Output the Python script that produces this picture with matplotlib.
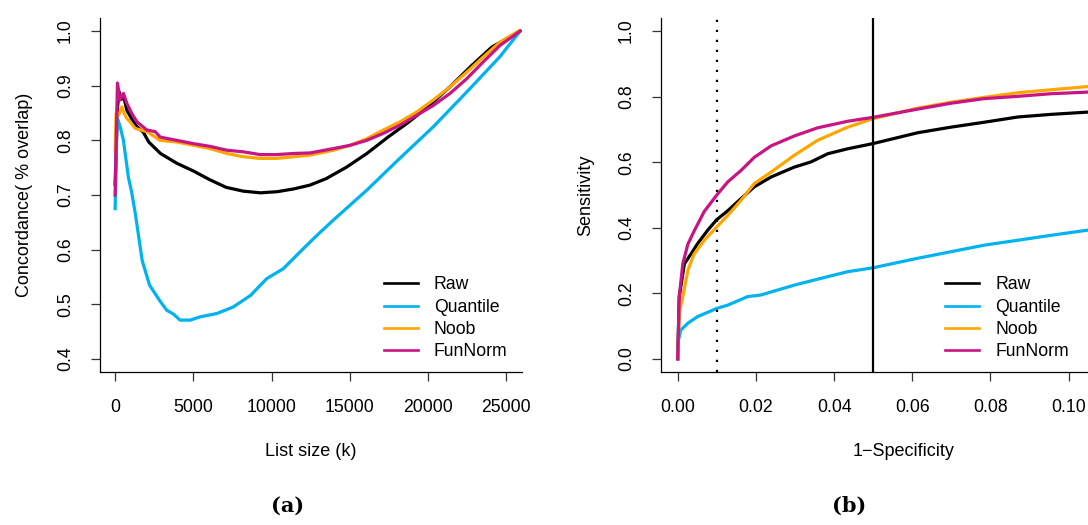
import matplotlib
matplotlib.use("Agg")
import matplotlib.pyplot as plt
from matplotlib.lines import Line2D

plt.rcParams['font.family'] = ['Liberation Sans', 'DejaVu Sans']

# ---------------- data: panel (a) concordance vs list size ----------------
raw_x = [0, 150, 250, 400, 550, 750, 950, 1150, 1400, 1800, 2150, 2900, 3950, 5000, 6050,
         7100, 8200, 9300, 10350, 11400, 12450, 13500, 14800, 16100, 17450, 18800, 20100,
         21450, 22800, 24100, 25900]
raw_y = [0.72, 0.86, 0.889, 0.875, 0.88, 0.855, 0.845, 0.835, 0.825, 0.815, 0.797, 0.776,
         0.758, 0.744, 0.728, 0.714, 0.707, 0.704, 0.706, 0.711, 0.718, 0.730, 0.751, 0.776,
         0.806, 0.834, 0.864, 0.899, 0.937, 0.971, 1.0]

quant_x = [0, 120, 320, 530, 845, 1070, 1290, 1730, 2200, 2840, 3300, 3730, 4150, 4800, 5450,
           6500, 7550, 8650, 9700, 10750, 11830, 12900, 13950, 16100, 18200, 20350, 22500,
           24600, 25900]
quant_y = [0.675, 0.843, 0.825, 0.80, 0.733, 0.703, 0.666, 0.580, 0.535, 0.507, 0.489, 0.482,
           0.471, 0.471, 0.477, 0.483, 0.495, 0.516, 0.547, 0.565, 0.596, 0.626, 0.654, 0.709,
           0.767, 0.825, 0.889, 0.953, 1.0]

noob_x = [0, 60, 200, 426, 600, 746, 960, 1280, 2030, 2880, 3950, 5010, 6070, 7140, 8200,
          9270, 10340, 11400, 12470, 13960, 15030, 16090, 17160, 18220, 19290, 20350, 21420,
          22490, 23550, 24620, 25800]
noob_y = [0.78, 0.849, 0.845, 0.861, 0.848, 0.840, 0.834, 0.822, 0.816, 0.800, 0.797, 0.791,
          0.785, 0.776, 0.770, 0.767, 0.767, 0.770, 0.773, 0.782, 0.791, 0.803, 0.819, 0.834,
          0.852, 0.874, 0.898, 0.925, 0.953, 0.980, 1.0]

fun_x = [0, 147, 320, 533, 746, 1070, 1390, 2030, 2560, 2880, 3950, 5010, 6070, 7140, 8200,
         9270, 10340, 11400, 12470, 13960, 15030, 16090, 17160, 18220, 19290, 20350, 21420,
         22490, 23550, 24620, 25900]
fun_y = [0.70, 0.905, 0.874, 0.886, 0.868, 0.849, 0.834, 0.819, 0.816, 0.806, 0.800, 0.794,
         0.789, 0.782, 0.779, 0.774, 0.774, 0.776, 0.777, 0.785, 0.791, 0.800, 0.813, 0.828,
         0.846, 0.864, 0.886, 0.913, 0.944, 0.974, 1.0]

# ---------------- data: panel (b) ROC curves ----------------
raw_fpr = [0, 0.0004, 0.0017, 0.0034, 0.0051, 0.0077, 0.0100, 0.0128, 0.0162, 0.0196, 0.0239,
           0.0298, 0.0341, 0.0384, 0.0435, 0.0500, 0.0614, 0.0699, 0.0784, 0.0870, 0.0955, 0.1050]
raw_tpr = [0, 0.19, 0.29, 0.32, 0.352, 0.393, 0.425, 0.452, 0.489, 0.525, 0.555, 0.585, 0.601,
           0.626, 0.641, 0.657, 0.690, 0.707, 0.722, 0.738, 0.746, 0.753]

quant_fpr = [0, 0.0002, 0.0008, 0.0026, 0.0051, 0.0100, 0.0128, 0.0179, 0.0213, 0.0298, 0.0384,
             0.0435, 0.0500, 0.0614, 0.0699, 0.0784, 0.0870, 0.0955, 0.1050]
quant_tpr = [0, 0.058, 0.088, 0.109, 0.129, 0.154, 0.164, 0.190, 0.195, 0.225, 0.251, 0.266,
             0.278, 0.307, 0.327, 0.347, 0.362, 0.377, 0.393]

noob_fpr = [0, 0.0004, 0.0013, 0.0026, 0.0042, 0.0068, 0.0100, 0.0128, 0.0162, 0.0196, 0.0239,
            0.0298, 0.0358, 0.0435, 0.0500, 0.0614, 0.0699, 0.0784, 0.0870, 0.0955, 0.1050]
noob_tpr = [0, 0.14, 0.19, 0.27, 0.32, 0.362, 0.403, 0.438, 0.484, 0.535, 0.570, 0.621, 0.667,
            0.707, 0.733, 0.765, 0.783, 0.798, 0.812, 0.821, 0.831]

fun_fpr = [0, 0.0004, 0.0013, 0.0026, 0.0042, 0.0068, 0.0100, 0.0128, 0.0162, 0.0196, 0.0239,
           0.0298, 0.0358, 0.0435, 0.0500, 0.0614, 0.0699, 0.0784, 0.0870, 0.0955, 0.1050]
fun_tpr = [0, 0.19, 0.29, 0.35, 0.39, 0.45, 0.50, 0.54, 0.575, 0.615, 0.65, 0.68, 0.705, 0.725,
           0.737, 0.762, 0.780, 0.794, 0.801, 0.809, 0.814]

labels = ["Raw", "Quantile", "Noob", "FunNorm"]
colors = ["#000000", "#00B2EE", "#FFA500", "#C71585"]

left_xticks = [0, 5000, 10000, 15000, 20000, 25000]
left_yticks = [0.4, 0.5, 0.6, 0.7, 0.8, 0.9, 1.0]
right_xticks = [0.00, 0.02, 0.04, 0.06, 0.08, 0.10]
right_yticks = [0.0, 0.2, 0.4, 0.6, 0.8, 1.0]
fpr_cutoffs = [0.01, 0.05]

FS = 12.7
LW = 2.3

fig = plt.figure(figsize=(10.88, 5.25), dpi=100)
W, H = 1088.0, 525.0


def style_axes(ax):
    for s in ("top", "right"):
        ax.spines[s].set_visible(False)
    for s in ("left", "bottom"):
        ax.spines[s].set_linewidth(0.9)
    ax.tick_params(direction="out", length=6.5, width=0.9, labelsize=FS, color="#333333")
    ax.tick_params(axis="x", pad=13)
    ax.tick_params(axis="y", pad=12)
    for t in ax.get_yticklabels():
        t.set_rotation(90)
        t.set_va("center")


def add_legend(ax, x_anchor):
    handles = [Line2D([], [], color=c, lw=1.9) for c in colors]
    ax.legend(handles, labels, loc="upper left", bbox_to_anchor=(x_anchor, 0.27),
              frameon=False, fontsize=FS, handlelength=1.95, handletextpad=0.9,
              labelspacing=0.3, borderpad=0, borderaxespad=0)


# ---------------- panel (a) ----------------
axL = fig.add_axes([99.5 / W, 1 - 372 / H, (521.7 - 99.5) / W, (372 - 18) / H])
seriesL = [(raw_x, raw_y), (quant_x, quant_y), (noob_x, noob_y), (fun_x, fun_y)]
for (xs, ys), c in zip(seriesL, colors):
    axL.plot(xs, ys, color=c, lw=LW, solid_joinstyle="round")
axL.set_xlim(-1000, 26000)
axL.set_ylim(0.376, 1.024)
axL.set_xticks(left_xticks)
axL.set_xticklabels([str(v) for v in left_xticks])
axL.set_yticks(left_yticks)
axL.set_yticklabels([f"{v:.1f}" for v in left_yticks])
style_axes(axL)
axL.set_xlabel("List size (k)", fontsize=FS + 0.3)
axL.xaxis.set_label_coords(0.5, -0.20)
axL.set_ylabel("Concordance( % overlap)", fontsize=FS + 0.3, va="center")
axL.yaxis.set_label_coords(-0.177, 0.5)
add_legend(axL, 0.673)

# ---------------- panel (b) ----------------
axR = fig.add_axes([660.5 / W, 1 - 372 / H, 464.5 / W, (372 - 18) / H])
seriesR = [(raw_fpr, raw_tpr), (quant_fpr, quant_tpr), (noob_fpr, noob_tpr), (fun_fpr, fun_tpr)]
for (xs, ys), c in zip(seriesR, colors):
    axR.plot(xs, ys, color=c, lw=LW, solid_joinstyle="round")
axR.axvline(fpr_cutoffs[0], color="black", lw=1.6, linestyle=(0, (1, 3.5)))
axR.axvline(fpr_cutoffs[1], color="black", lw=1.6)
axR.set_xlim(-0.0044, 0.1144)
axR.set_ylim(-0.04, 1.04)
axR.set_xticks(right_xticks)
axR.set_xticklabels([f"{v:.2f}" for v in right_xticks])
axR.set_yticks(right_yticks)
axR.set_yticklabels([f"{v:.1f}" for v in right_yticks])
style_axes(axR)
axR.set_xlabel("1\u2212Specificity", fontsize=FS + 0.3)
axR.xaxis.set_label_coords((904 - 660.5) / 464.5, -0.20)
axR.set_ylabel("Sensitivity", fontsize=FS + 0.3, va="center")
axR.yaxis.set_label_coords(-0.160, 0.5)
add_legend(axR, 0.612)

# ---------------- captions ----------------
fig.text(287.6 / W, 1 - 506 / H, "(a)", ha="center", va="center",
         fontsize=15, fontweight="bold", family="DejaVu Serif")
fig.text(849 / W, 1 - 506 / H, "(b)", ha="center", va="center",
         fontsize=15, fontweight="bold", family="DejaVu Serif")

fig.savefig("out.png", dpi=100)
